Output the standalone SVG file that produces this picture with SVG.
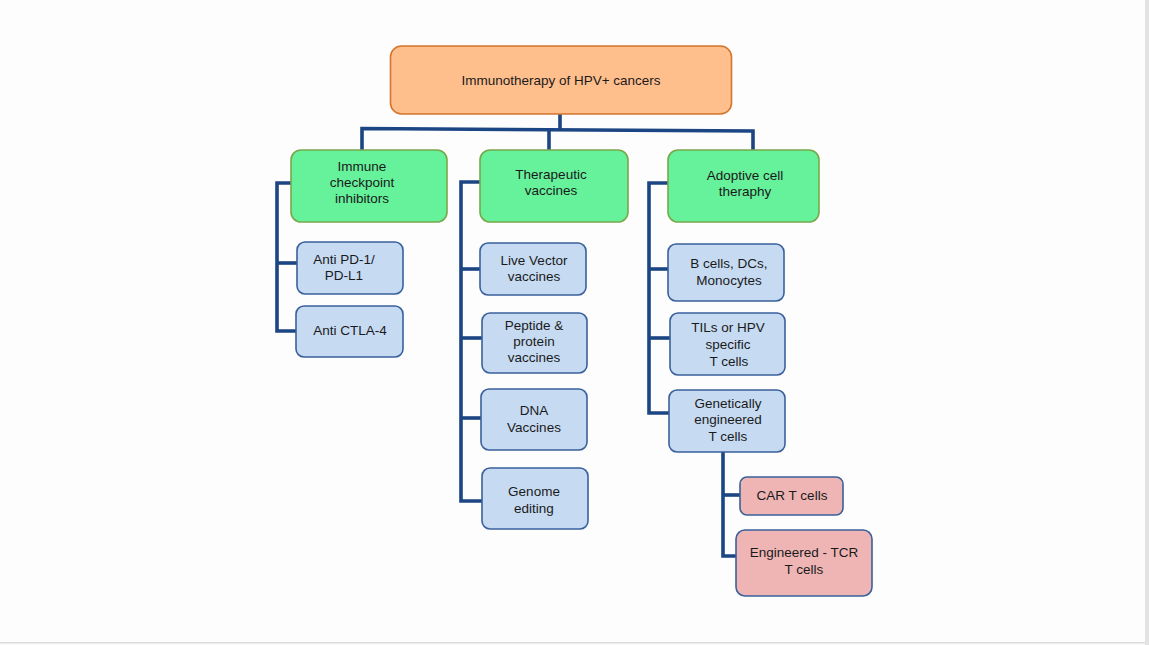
<svg xmlns="http://www.w3.org/2000/svg" width="1149" height="645" viewBox="0 0 1149 645">
<style>
.t{font-family:"Liberation Sans",Arial,sans-serif;font-size:13.5px;fill:#1a1a1a;text-anchor:middle}
.root{fill:#ffbf8d;stroke:#d4762e;stroke-width:1.6}
.grn{fill:#66f19b;stroke:#78a84c;stroke-width:1.6}
.blu{fill:#c6daf2;stroke:#3a609c;stroke-width:1.6}
.pnk{fill:#efb5b5;stroke:#3a609c;stroke-width:1.6}
.c{fill:none;stroke:#1c4583;stroke-width:3.6;stroke-linejoin:miter;stroke-linecap:butt}
</style>
<rect x="0" y="0" width="1149" height="645" fill="#fdfdfd"/>
<rect x="1145" y="0" width="4" height="645" fill="#e3e3e3"/>
<rect x="0" y="642" width="1145" height="1.5" fill="#dcdcdc"/>
<g id="connectors">
<path class="c" d="M560 114 V129.8"/>
<path class="c" d="M362 150 V128.5 L753 131 V150"/>
<path class="c" d="M549 129.7 V150"/>
<path class="c" d="M291 183 H277 V331 H296"/>
<path class="c" d="M277 263 H297"/>
<path class="c" d="M480 182 H461 V501 H482"/>
<path class="c" d="M461 269 H480"/>
<path class="c" d="M461 338 H482"/>
<path class="c" d="M461 418 H481"/>
<path class="c" d="M668 183 H649 V413 H669"/>
<path class="c" d="M649 269 H668"/>
<path class="c" d="M649 338 H670"/>
<path class="c" d="M723 452 V556 H736"/>
<path class="c" d="M723 495 H740"/>
</g>
<g id="root">
<rect class="root" x="390.5" y="46" width="341" height="68" rx="11"/>
<text class="t" x="561" y="85">Immunotherapy of HPV+ cancers</text>
</g>
<g id="checkpoint">
<rect class="grn" x="291" y="150" width="156" height="72" rx="10"/>
<text class="t" x="362" y="171">Immune</text>
<text class="t" x="362" y="187">checkpoint</text>
<text class="t" x="362" y="203">inhibitors</text>
</g>
<g id="vaccines">
<rect class="grn" x="480" y="150" width="148" height="72" rx="10"/>
<text class="t" x="551" y="179">Therapeutic</text>
<text class="t" x="551" y="195">vaccines</text>
</g>
<g id="adoptive">
<rect class="grn" x="668" y="150" width="151" height="72" rx="10"/>
<text class="t" x="745" y="180">Adoptive cell</text>
<text class="t" x="745" y="196">theraphy</text>
</g>
<g id="pd1">
<rect class="blu" x="297" y="242" width="106" height="52" rx="8"/>
<text class="t" x="344" y="264">Anti PD-1/</text>
<text class="t" x="344" y="280">PD-L1</text>
</g>
<g id="ctla4">
<rect class="blu" x="296" y="306" width="107" height="51" rx="8"/>
<text class="t" x="350" y="335">Anti CTLA-4</text>
</g>
<g id="live">
<rect class="blu" x="480" y="243" width="106" height="52" rx="8"/>
<text class="t" x="534" y="265">Live Vector</text>
<text class="t" x="534" y="281">vaccines</text>
</g>
<g id="peptide">
<rect class="blu" x="482" y="313" width="105" height="60" rx="8"/>
<text class="t" x="534" y="330">Peptide &amp;</text>
<text class="t" x="534" y="346">protein</text>
<text class="t" x="534" y="362">vaccines</text>
</g>
<g id="dna">
<rect class="blu" x="481" y="389" width="106" height="61" rx="8"/>
<text class="t" x="534" y="415">DNA</text>
<text class="t" x="534" y="432">Vaccines</text>
</g>
<g id="genome">
<rect class="blu" x="482" y="468" width="106" height="61" rx="8"/>
<text class="t" x="534" y="496">Genome</text>
<text class="t" x="534" y="513">editing</text>
</g>
<g id="bcells">
<rect class="blu" x="668" y="244" width="116" height="57" rx="8"/>
<text class="t" x="729" y="268">B cells, DCs,</text>
<text class="t" x="729" y="285">Monocytes</text>
</g>
<g id="tils">
<rect class="blu" x="670" y="313" width="115" height="62" rx="8"/>
<text class="t" x="728" y="332">TILs or HPV</text>
<text class="t" x="728" y="349">specific</text>
<text class="t" x="729" y="366">T cells</text>
</g>
<g id="genetic">
<rect class="blu" x="669" y="390" width="116" height="62" rx="8"/>
<text class="t" x="728" y="408">Genetically</text>
<text class="t" x="728" y="424">engineered</text>
<text class="t" x="728" y="441">T cells</text>
</g>
<g id="car">
<rect class="pnk" x="740" y="477" width="103" height="38" rx="7"/>
<text class="t" x="792" y="500">CAR T cells</text>
</g>
<g id="tcr">
<rect class="pnk" x="736" y="530" width="136" height="66" rx="9"/>
<text class="t" x="804" y="557">Engineered - TCR</text>
<text class="t" x="804" y="574">T cells</text>
</g>
</svg>
